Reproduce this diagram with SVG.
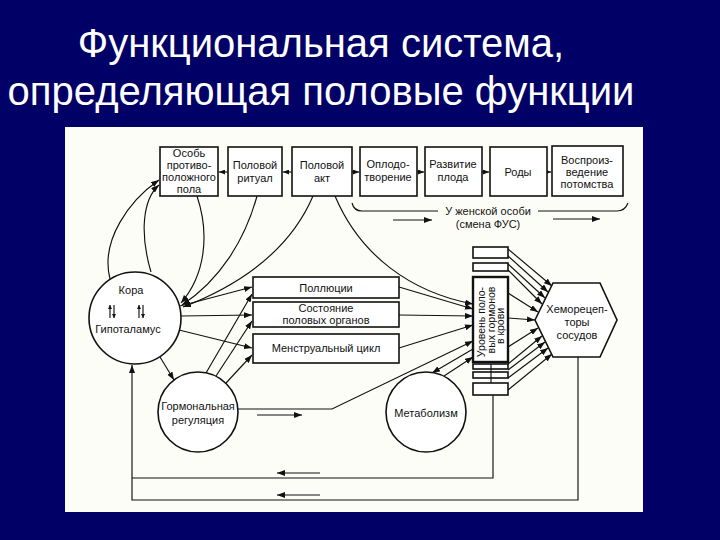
<svg xmlns="http://www.w3.org/2000/svg" width="720" height="540" viewBox="0 0 720 540">
<defs>
<marker id="ah" viewBox="0 0 8 6" refX="8" refY="3" markerWidth="8" markerHeight="6" markerUnits="userSpaceOnUse" orient="auto"><path d="M0,0 L8,3 L0,6 z" fill="#111"/></marker>
<marker id="sm" viewBox="0 0 6 5" refX="6" refY="2.5" markerWidth="6" markerHeight="5" markerUnits="userSpaceOnUse" orient="auto"><path d="M0,0 L6,2.5 L0,5 z" fill="#111"/></marker>
<marker id="tn" viewBox="0 0 4 4" refX="4" refY="2" markerWidth="4" markerHeight="4" markerUnits="userSpaceOnUse" orient="auto"><path d="M0,0 L4,2 L0,4 z" fill="#111"/></marker>
</defs>
<style>
.bx{fill:#fff;stroke:#111;stroke-width:1.6}
.bt{fill:#fff;stroke:#111;stroke-width:2.4}
.t{font-family:"Liberation Sans",Arial,sans-serif;font-size:11px;fill:#111;text-anchor:middle}
.ti{font-family:"Liberation Sans",Arial,sans-serif;font-size:40px;fill:#fff;text-anchor:middle}
.c{fill:none;stroke:#111;stroke-width:1.15}
.a{marker-end:url(#ah)}
.s{marker-end:url(#sm)}
.k{marker-end:url(#tn)}
</style>
<rect x="0" y="0" width="720" height="540" fill="#000066"/>
<g id="title">
<text class="ti" x="321" y="57">Функциональная система,</text>
<text class="ti" x="321" y="105">определяющая половые функции</text>
</g>
<rect id="panel" x="65" y="127" width="578" height="385" fill="#fdfdf8"/>

<g id="connectors">
<path class="c s" d="M228,172 L219,172"/>
<path class="c s" d="M292,172 L283,172"/>
<path class="c s" d="M352,172 L359,172"/>
<path class="c s" d="M417,172 L424,172"/>
<path class="c s" d="M482,172 L489,172"/>
<path class="c s" d="M547,172 L551,172"/>
<path class="c a" d="M110,279 C100,240 130,200 159,180"/>
<path class="c a" d="M151,272 C140,235 142,200 159,185"/>
<path class="c a" d="M197,196 C210,235 205,275 181,303"/>
<path class="c a" d="M257,196 C245,240 220,280 182,305"/>
<path class="c a" d="M313,196 C290,250 240,285 183,307"/>
<path class="c a" d="M335,196 C360,255 410,292 473,304"/>
<path class="c a" d="M180,306 L252,287"/>
<path class="c a" d="M181,316 L252,315"/>
<path class="c a" d="M179,330 L252,348"/>
<path class="c a" d="M206,373 L252,294"/>
<path class="c a" d="M216,376 L252,321"/>
<path class="c a" d="M226,383 L252,355"/>
<path class="c a" d="M160,357 L174,380"/>
<path class="c a" d="M238,409 L332,409 L473,341"/>
<path class="c a" d="M399,287 L473,309"/>
<path class="c a" d="M399,315 L473,316"/>
<path class="c a" d="M399,348 L473,325"/>
<path class="c a" d="M473,349 L432,373"/>
<path class="c a" d="M444,376 L473,357"/>
<path class="c a" d="M508,249 L552,286"/>
<path class="c a" d="M508,256 L548,292"/>
<path class="c a" d="M508,264 L545,298"/>
<path class="c a" d="M508,270 L542,304"/>
<path class="c a" d="M508,293 L538,312"/>
<path class="c a" d="M508,318 L535,320"/>
<path class="c a" d="M508,347 L538,328"/>
<path class="c a" d="M508,364 L542,336"/>
<path class="c a" d="M508,370 L545,342"/>
<path class="c a" d="M508,378 L548,348"/>
<path class="c a" d="M508,390 L552,354"/>
<path class="c a" d="M578,357 L578,500 L132,500 L132,365"/>
<path class="c" d="M493,395 L493,478 L132,478"/>
</g>

<g id="indicators">
<path class="c a" d="M393,220 L432,220" stroke-width="1.5"/>
<path class="c a" d="M553,219 L600,219" stroke-width="1.5"/>
<path class="c a" d="M257,415 L302,415" stroke-width="1.5"/>
<path class="c a" d="M320,473 L277,473" stroke-width="1.5"/>
<path class="c a" d="M320,495 L277,495" stroke-width="1.5"/>
</g>

<g id="n-osob"><rect class="bx" x="160" y="147" width="58" height="49"/>
<text class="t" x="189" y="157">Особь</text><text class="t" x="189" y="169">противо-</text><text class="t" x="189" y="181">положного</text><text class="t" x="189" y="193">пола</text></g>
<g id="n-ritual"><rect class="bx" x="228" y="147" width="54" height="49"/>
<text class="t" x="255" y="169">Половой</text><text class="t" x="255" y="182">ритуал</text></g>
<g id="n-akt"><rect class="bx" x="292" y="147" width="60" height="49"/>
<text class="t" x="322" y="169">Половой</text><text class="t" x="322" y="182">акт</text></g>
<g id="n-oplod"><rect class="bx" x="360" y="147" width="57" height="49"/>
<text class="t" x="388" y="168">Оплодо-</text><text class="t" x="388" y="181">творение</text></g>
<g id="n-razv"><rect class="bx" x="425" y="147" width="57" height="49"/>
<text class="t" x="453" y="168">Развитие</text><text class="t" x="453" y="181">плода</text></g>
<g id="n-rody"><rect class="bx" x="490" y="147" width="57" height="49"/>
<text class="t" x="518" y="176">Роды</text></g>
<g id="n-vospr"><rect class="bx" x="552" y="146" width="71" height="50"/>
<text class="t" x="587" y="164">Воспроиз-</text><text class="t" x="587" y="176">ведение</text><text class="t" x="587" y="188">потомства</text></g>

<g id="n-female">
<path class="c" d="M352,203 Q354,211 362,211 L438,211 M538,211 L617,211 Q625,211 628,203" stroke-width="1.4"/>
<text class="t" x="488" y="215">У женской особи</text>
<text class="t" x="488" y="228">(смена ФУС)</text>
</g>

<g id="n-kora"><circle class="bx" cx="135" cy="318" r="46"/>
<text class="t" x="131" y="294">Кора</text>
<path class="c k" d="M110,318 L110,305" stroke-width="1.2"/><path class="c k" d="M114,305 L114,318" stroke-width="1.2"/>
<path class="c k" d="M139,318 L139,305" stroke-width="1.2"/><path class="c k" d="M143,305 L143,318" stroke-width="1.2"/>
<text class="t" x="128" y="333">Гипоталамус</text></g>

<g id="n-gorm"><circle class="bx" cx="198" cy="412" r="40"/>
<text class="t" x="198" y="410">Гормональная</text><text class="t" x="198" y="424">регуляция</text></g>

<g id="n-metab"><circle class="bx" cx="426" cy="412" r="40"/>
<text class="t" x="426" y="417">Метаболизм</text></g>

<g id="n-poll"><rect class="bx" x="253" y="277" width="146" height="21"/>
<text class="t" x="326" y="292">Поллюции</text></g>
<g id="n-sost"><rect class="bx" x="253" y="302" width="146" height="25"/>
<text class="t" x="326" y="312">Состояние</text><text class="t" x="326" y="324">половых органов</text></g>
<g id="n-menstr"><rect class="bx" x="253" y="334" width="146" height="29"/>
<text class="t" x="326" y="352">Менструальный цикл</text></g>

<g id="n-level">
<rect class="bx" x="473" y="247" width="35" height="11"/>
<rect class="bx" x="473" y="263" width="35" height="8" stroke-width="2"/>
<rect class="bt" x="473" y="277" width="35" height="85"/>
<rect class="bx" x="473" y="364" width="35" height="5" stroke-width="2"/>
<rect class="bx" x="473" y="372" width="35" height="6"/>
<rect class="bx" x="473" y="383" width="35" height="12"/>
<path class="c" d="M491,364 L491,383"/>
<g class="t" style="font-size:10.5px">
<text transform="translate(484.5,322) rotate(-90)">Уровень поло-</text>
<text transform="translate(494.5,320) rotate(-90)">вых гормонов</text>
<text transform="translate(504,326) rotate(-90)">в крови</text>
</g>
</g>

<g id="n-hemo"><polygon class="bx" points="535,320 553,283 600,283 617,320 600,357 553,357"/>
<text class="t" x="577" y="313">Хеморецеп-</text><text class="t" x="577" y="326">торы</text><text class="t" x="577" y="339">сосудов</text></g>
</svg>
